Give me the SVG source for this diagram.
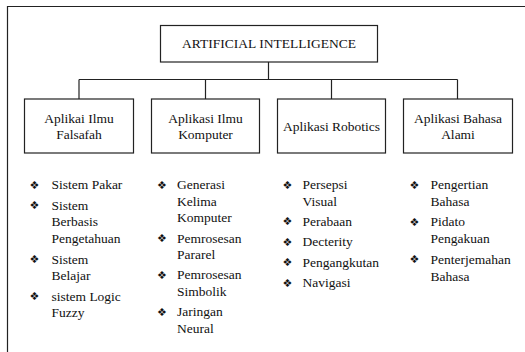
<svg xmlns="http://www.w3.org/2000/svg" width="525" height="352" viewBox="0 0 525 352">
<style>
.box{fill:#fff;stroke:#222;stroke-width:1.2}
.ln{stroke:#222;stroke-width:1.2;fill:none}
.t{font-family:'Liberation Serif','Times New Roman',serif;font-size:13.5px;fill:#111}
.c{text-anchor:middle}
.b{font-family:'DejaVu Sans',sans-serif;font-size:11px;fill:#111}
</style>
<rect width="525" height="352" fill="#fff"/>
<path class="ln" d="M7.5,352 V6.5 H525"/>
<g id="connectors">
<path class="ln" d="M268.5,62 V79.5 M79,79.5 H457.5 M79,79.5 V99 M205.5,79.5 V99 M331.5,79.5 V99 M457.5,79.5 V99"/>
</g>
<g id="ai" class="t">
<rect class="box" x="160.5" y="25.5" width="217" height="36.5"/>
<text class="c" x="269" y="48">ARTIFICIAL INTELLIGENCE</text>
</g>
<g id="falsafah" class="t">
<rect class="box" x="24.5" y="99" width="109" height="54"/>
<text class="c" x="79" y="122.5">Aplikai Ilmu</text>
<text class="c" x="79" y="139">Falsafah</text>
</g>
<g id="komputer" class="t">
<rect class="box" x="151.5" y="99" width="108" height="54"/>
<text class="c" x="205.5" y="122.5">Aplikasi Ilmu</text>
<text class="c" x="205.5" y="139">Komputer</text>
</g>
<g id="robotics" class="t">
<rect class="box" x="277.5" y="99" width="108" height="54"/>
<text class="c" x="331.5" y="130.5">Aplikasi Robotics</text>
</g>
<g id="bahasa" class="t">
<rect class="box" x="403.5" y="99" width="109" height="54"/>
<text class="c" x="458" y="122.5">Aplikasi Bahasa</text>
<text class="c" x="458" y="139">Alami</text>
</g>
<g id="list-falsafah" class="t">
<text class="b" x="29.5" y="188.5">❖</text><text x="51.5" y="189">Sistem Pakar</text>
<text class="b" x="29.5" y="209">❖</text><text x="51.5" y="209.5">Sistem</text>
<text x="51.5" y="226.2">Berbasis</text>
<text x="51.5" y="243">Pengetahuan</text>
<text class="b" x="29.5" y="263">❖</text><text x="51.5" y="263.5">Sistem</text>
<text x="51.5" y="280.2">Belajar</text>
<text class="b" x="29.5" y="300">❖</text><text x="51.5" y="300.5">sistem Logic</text>
<text x="51.5" y="317.3">Fuzzy</text>
</g>
<g id="list-komputer" class="t">
<text class="b" x="157" y="188.5">❖</text><text x="177" y="189">Generasi</text>
<text x="177" y="205.7">Kelima</text>
<text x="177" y="222.4">Komputer</text>
<text class="b" x="157" y="242">❖</text><text x="177" y="242.5">Pemrosesan</text>
<text x="177" y="258.5">Pararel</text>
<text class="b" x="157" y="278.5">❖</text><text x="177" y="279">Pemrosesan</text>
<text x="177" y="295.7">Simbolik</text>
<text class="b" x="157" y="315.5">❖</text><text x="177" y="316">Jaringan</text>
<text x="177" y="332.5">Neural</text>
</g>
<g id="list-robotics" class="t">
<text class="b" x="282.5" y="188.5">❖</text><text x="302.5" y="189">Persepsi</text>
<text x="302.5" y="205.7">Visual</text>
<text class="b" x="282.5" y="225">❖</text><text x="302.5" y="225.5">Perabaan</text>
<text class="b" x="282.5" y="245.5">❖</text><text x="302.5" y="246">Decterity</text>
<text class="b" x="282.5" y="266">❖</text><text x="302.5" y="266.5">Pengangkutan</text>
<text class="b" x="282.5" y="286.5">❖</text><text x="302.5" y="287">Navigasi</text>
</g>
<g id="list-bahasa" class="t">
<text class="b" x="409.5" y="188.5">❖</text><text x="430.5" y="189">Pengertian</text>
<text x="430.5" y="205.7">Bahasa</text>
<text class="b" x="409.5" y="225.7">❖</text><text x="430.5" y="226.2">Pidato</text>
<text x="430.5" y="243">Pengakuan</text>
<text class="b" x="409.5" y="263">❖</text><text x="430.5" y="263.5">Penterjemahan</text>
<text x="430.5" y="280.5">Bahasa</text>
</g>
</svg>
